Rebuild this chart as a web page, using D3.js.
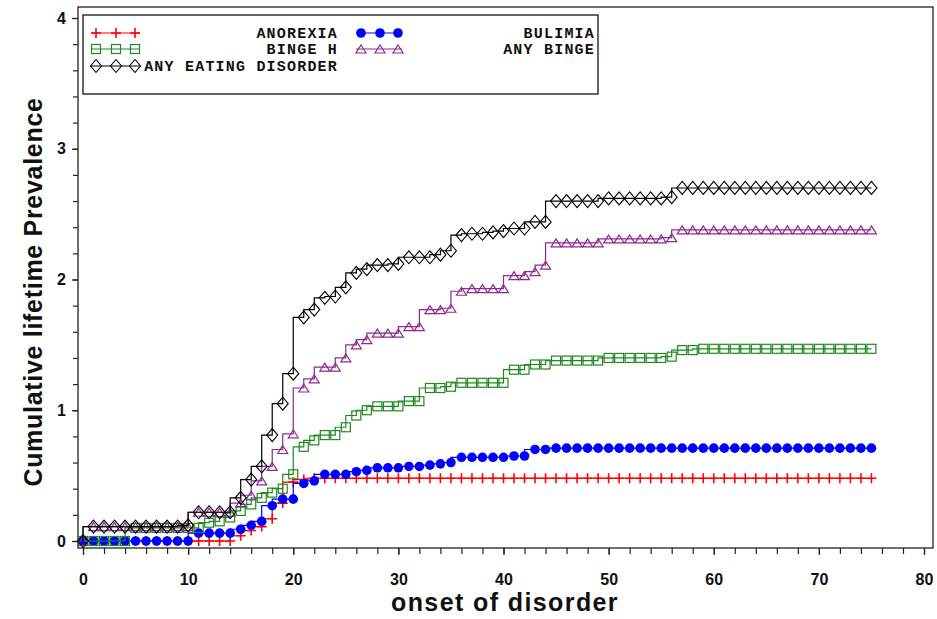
<!DOCTYPE html>
<html>
<head>
<meta charset="utf-8">
<script src="https://cdn.jsdelivr.net/npm/d3@7"></script>
<style>
  body { margin: 0; background: #fff; }
  svg { display: block; }
</style>
</head>
<body>
<div id="chart"></div>
<script>
// ages 0..75 (one marker per year of onset)
var ages = [
  0,1,2,3,4,5,6,7,8,9,10,11,12,13,14,15,16,17,18,19,
  20,21,22,23,24,25,26,27,28,29,30,31,32,33,34,35,36,37,38,39,
  40,41,42,43,44,45,46,47,48,49,50,51,52,53,54,55,56,57,58,59,
  60,61,62,63,64,65,66,67,68,69,70,71,72,73,74,75
];

var anorexia = [
  0,0,0,0,0,0,0,0,0,0,0,0,0,0,0,0.04,0.08,0.11,0.17,0.29,
  0.45,0.47,0.48,0.48,0.48,0.48,0.48,0.48,0.48,0.48,0.48,0.48,0.48,0.48,0.48,0.48,0.48,0.48,0.48,0.48,
  0.48,0.48,0.48,0.48,0.48,0.48,0.48,0.48,0.48,0.48,0.48,0.48,0.48,0.48,0.48,0.48,0.48,0.48,0.48,0.48,
  0.48,0.48,0.48,0.48,0.48,0.48,0.48,0.48,0.48,0.48,0.48,0.48,0.48,0.48,0.48,0.48
];

var bulimia = [
  0,0,0,0,0,0,0,0,0,0,0,0.06,0.06,0.06,0.06,0.09,0.12,0.15,0.27,0.32,
  0.32,0.44,0.46,0.51,0.51,0.51,0.53,0.54,0.56,0.56,0.56,0.57,0.57,0.58,0.59,0.60,0.64,0.64,0.64,0.64,
  0.64,0.65,0.65,0.70,0.70,0.71,0.71,0.71,0.71,0.71,0.71,0.71,0.71,0.71,0.71,0.71,0.71,0.71,0.71,0.71,
  0.71,0.71,0.71,0.71,0.71,0.71,0.71,0.71,0.71,0.71,0.71,0.71,0.71,0.71,0.71,0.71
];

var bingeH = [
  0,0,0,0,0,0.10,0.10,0.10,0.10,0.10,0.10,0.10,0.14,0.15,0.18,0.23,0.28,0.33,0.37,0.40,
  0.51,0.72,0.77,0.81,0.81,0.87,0.96,1.00,1.03,1.03,1.03,1.07,1.07,1.17,1.17,1.18,1.21,1.21,1.21,1.21,
  1.21,1.31,1.31,1.35,1.35,1.38,1.38,1.38,1.38,1.38,1.40,1.40,1.40,1.40,1.40,1.40,1.41,1.46,1.46,1.47,
  1.47,1.47,1.47,1.47,1.47,1.47,1.47,1.47,1.47,1.47,1.47,1.47,1.47,1.47,1.47,1.47
];

var anyBinge = [
  0,0.11,0.11,0.11,0.11,0.11,0.11,0.11,0.11,0.11,0.11,0.22,0.22,0.22,0.22,0.29,0.35,0.46,0.57,0.70,
  0.82,1.17,1.24,1.33,1.33,1.40,1.50,1.54,1.59,1.59,1.59,1.64,1.64,1.77,1.77,1.78,1.91,1.93,1.93,1.93,
  1.93,2.03,2.03,2.06,2.11,2.28,2.28,2.28,2.28,2.28,2.31,2.31,2.31,2.31,2.31,2.31,2.32,2.38,2.38,2.38,
  2.38,2.38,2.38,2.38,2.38,2.38,2.38,2.38,2.38,2.38,2.38,2.38,2.38,2.38,2.38,2.38
];

var anyEating = [
  0,0.11,0.11,0.11,0.11,0.11,0.11,0.11,0.11,0.11,0.12,0.22,0.22,0.22,0.22,0.33,0.47,0.57,0.81,1.05,
  1.28,1.71,1.77,1.86,1.87,1.94,2.05,2.08,2.11,2.11,2.12,2.17,2.17,2.17,2.19,2.22,2.34,2.35,2.35,2.36,
  2.37,2.39,2.39,2.44,2.44,2.60,2.60,2.60,2.60,2.60,2.62,2.62,2.62,2.62,2.62,2.62,2.63,2.70,2.70,2.70,
  2.70,2.70,2.70,2.70,2.70,2.70,2.70,2.70,2.70,2.70,2.70,2.70,2.70,2.70,2.70,2.70
];

var seriesNames = ['ANOREXIA', 'BULIMIA', 'BINGE H', 'ANY BINGE', 'ANY EATING DISORDER'];
var xTickLabels = [0, 10, 20, 30, 40, 50, 60, 70, 80];
var yTickLabels = [0, 1, 2, 3, 4];

(function(d3){
    var W = 937, H = 619;
    var frame = {left: 78, top: 7, right: 933, bottom: 548};

    var series = [
        {name: seriesNames[0], vals: anorexia,  color: '#ff0000', sym: 'plus'},
        {name: seriesNames[1], vals: bulimia,   color: '#0000ff', sym: 'dot'},
        {name: seriesNames[2], vals: bingeH,    color: '#1e8a1e', sym: 'square'},
        {name: seriesNames[3], vals: anyBinge,  color: '#8e2a8e', sym: 'triangle'},
        {name: seriesNames[4], vals: anyEating, color: '#000000', sym: 'diamond'}
    ];

    var svg = d3.select('#chart').append('svg')
        .attr('width', W)
        .attr('height', H);

    var x = d3.scaleLinear().domain([0, 80]).range([83, 924]);
    var y = d3.scaleLinear().domain([0, 4]).range([541, 18]);

    // frame
    svg.append('rect')
        .attr('x', frame.left).attr('y', frame.top)
        .attr('width', frame.right - frame.left)
        .attr('height', frame.bottom - frame.top)
        .attr('fill', 'none')
        .attr('stroke', '#222')
        .attr('stroke-width', 1.3);

    // axes
    var xMinor = svg.append('g')
        .attr('transform', 'translate(0,' + frame.bottom + ')')
        .call(d3.axisBottom(x).tickValues(d3.range(0, 81, 2)).tickSize(6).tickFormat(''));
    var xAxis = svg.append('g')
        .attr('transform', 'translate(0,' + frame.bottom + ')')
        .call(d3.axisBottom(x).tickValues(xTickLabels).tickSize(7).tickPadding(19).tickFormat(d3.format('d')));
    var yMinor = svg.append('g')
        .attr('transform', 'translate(' + frame.left + ',0)')
        .call(d3.axisLeft(y).tickValues(d3.range(0, 4.01, 0.2)).tickSize(5).tickFormat(''));
    var yAxis = svg.append('g')
        .attr('transform', 'translate(' + frame.left + ',0)')
        .call(d3.axisLeft(y).tickValues(yTickLabels).tickSize(6).tickPadding(6).tickFormat(d3.format('d')));

    [xMinor, xAxis, yMinor, yAxis].forEach(function(g){
        g.select('.domain').remove();
        g.selectAll('line').attr('stroke', '#222').attr('stroke-width', 1.2);
        g.selectAll('text')
            .attr('fill', '#111')
            .style('font-family', '"Liberation Sans", Arial, sans-serif')
            .style('font-weight', 'bold')
            .style('font-size', '16px');
    });

    // titles
    svg.append('text')
        .attr('x', 505).attr('y', 611)
        .attr('text-anchor', 'middle')
        .style('font-family', '"Liberation Sans", Arial, sans-serif')
        .style('font-size', '25px')
        .style('font-weight', 'bold')
        .style('letter-spacing', '1.4px')
        .attr('fill', '#111')
        .text('onset of disorder');

    svg.append('text')
        .attr('transform', 'translate(42,292) rotate(-90)')
        .attr('text-anchor', 'middle')
        .style('font-family', '"Liberation Sans", Arial, sans-serif')
        .style('font-size', '25px')
        .style('font-weight', 'bold')
        .style('letter-spacing', '0.7px')
        .attr('fill', '#111')
        .text('Cumulative lifetime Prevalence');

    // marker painter
    var drawMarker = function(g, sym, color, px, py){
        switch(sym){
            case 'plus':
                g.append('path')
                    .attr('d', 'M' + (px - 5) + ',' + py + 'H' + (px + 5) + 'M' + px + ',' + (py - 5) + 'V' + (py + 5))
                    .attr('stroke', color).attr('stroke-width', 1.6).attr('fill', 'none');
                break;
            case 'dot':
                g.append('circle')
                    .attr('cx', px).attr('cy', py).attr('r', 4.8)
                    .attr('fill', color);
                break;
            case 'square':
                g.append('rect')
                    .attr('x', px - 4.5).attr('y', py - 4.5)
                    .attr('width', 9).attr('height', 9)
                    .attr('fill', 'none').attr('stroke', color).attr('stroke-width', 1.2);
                break;
            case 'triangle':
                g.append('path')
                    .attr('d', 'M' + px + ',' + (py - 4) + 'L' + (px + 5) + ',' + (py + 4) + 'L' + (px - 5) + ',' + (py + 4) + 'Z')
                    .attr('fill', 'none').attr('stroke', color).attr('stroke-width', 1.2);
                break;
            default:
                g.append('path')
                    .attr('d', 'M' + px + ',' + (py - 6.5) + 'L' + (px + 5.5) + ',' + py + 'L' + px + ',' + (py + 6.5) + 'L' + (px - 5.5) + ',' + py + 'Z')
                    .attr('fill', 'none').attr('stroke', color).attr('stroke-width', 1.1);
        }
    };

    var line = d3.line()
        .x(function(d){ return x(d[0]); })
        .y(function(d){ return y(d[1]); })
        .curve(d3.curveStepBefore);

    var plot = svg.append('g').attr('class', 'plot');

    series.forEach(function(s){
        var pts = ages.map(function(a, i){ return [a, s.vals[i]]; });
        var g = plot.append('g');
        g.append('path')
            .datum(pts)
            .attr('d', line)
            .attr('fill', 'none')
            .attr('stroke', s.color)
            .attr('stroke-width', 1.2);
        pts.forEach(function(p){
            drawMarker(g, s.sym, s.color, x(p[0]), y(p[1]));
        });
    });

    // legend
    var leg = svg.append('g').attr('class', 'legend');
    leg.append('rect')
        .attr('x', 83).attr('y', 15)
        .attr('width', 515).attr('height', 79)
        .attr('fill', '#fff')
        .attr('stroke', '#333')
        .attr('stroke-width', 1.5);

    var legendSlots = [
        {s: series[0], row: 33, mx: [96, 116, 135], lx: [91, 140], tx: 338},
        {s: series[1], row: 33, mx: [361, 380, 398], lx: [356, 402], tx: 595},
        {s: series[2], row: 49, mx: [96, 116, 135], lx: [91, 140], tx: 338},
        {s: series[3], row: 49, mx: [361, 380, 398], lx: [356, 402], tx: 595},
        {s: series[4], row: 66, mx: [96, 116, 135], lx: [91, 140], tx: 338}
    ];

    legendSlots.forEach(function(l){
        var g = leg.append('g');
        g.append('line')
            .attr('x1', l.lx[0]).attr('x2', l.lx[1])
            .attr('y1', l.row).attr('y2', l.row)
            .attr('stroke', l.s.color).attr('stroke-width', 1.2);
        l.mx.forEach(function(mx){ drawMarker(g, l.s.sym, l.s.color, mx, l.row); });
        g.append('text')
            .attr('x', l.tx).attr('y', l.row + 5)
            .attr('text-anchor', 'end')
            .style('font-family', '"Liberation Mono", "Courier New", monospace')
            .style('font-weight', 'bold')
            .style('font-size', '15px')
            .style('letter-spacing', '1.2px')
            .attr('fill', '#111')
            .text(l.s.name);
    });

}(d3));
</script>
</body>
</html>
